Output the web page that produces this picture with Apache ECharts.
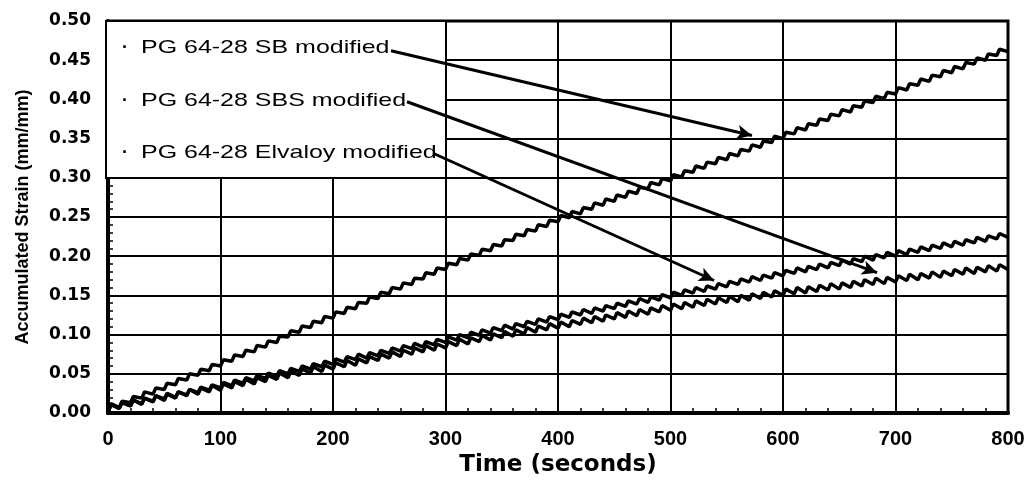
<!DOCTYPE html>
<html>
<head>
<meta charset="utf-8">
<script src="https://cdn.jsdelivr.net/npm/echarts@6/dist/echarts.min.js"></script>
<style>
  html, body { margin: 0; padding: 0; background: #fff; }
  #chart { width: 1035px; height: 482px; }
</style>
</head>
<body>
<div id="chart"></div>
<script>
// Repeated creep-recovery test: each cycle is a short load pulse followed by rest.
const CYCLE_SECONDS = 10;
const LOAD_SECONDS = 2.5;

const seriesNames = ['PG 64-28 SB modified', 'PG 64-28 SBS modified', 'PG 64-28 Elvaloy modified'];

// Strain at the start of each cycle (t = 0, 10, ..., 800 s), mm/mm
const sbValley = [
  0.000, 0.007, 0.013, 0.019, 0.024, 0.030, 0.036, 0.042, 0.048, 0.054,
  0.060, 0.066, 0.072, 0.078, 0.084, 0.090, 0.097, 0.103, 0.109, 0.115,
  0.121, 0.127, 0.133, 0.140, 0.146, 0.152, 0.158, 0.164, 0.171, 0.177,
  0.183, 0.189, 0.195, 0.201, 0.207, 0.213, 0.220, 0.226, 0.232, 0.238,
  0.244, 0.249, 0.254, 0.260, 0.265, 0.270, 0.275, 0.280, 0.286, 0.291,
  0.296, 0.301, 0.307, 0.312, 0.318, 0.323, 0.328, 0.334, 0.339, 0.345,
  0.350, 0.356, 0.361, 0.367, 0.373, 0.379, 0.384, 0.390, 0.396, 0.401,
  0.407, 0.412, 0.418, 0.423, 0.429, 0.434, 0.439, 0.445, 0.450, 0.456,
  0.461
];
// Strain at the end of each load pulse
const sbPeak = [
  0.012, 0.015, 0.021, 0.027, 0.032, 0.038, 0.044, 0.050, 0.056, 0.062,
  0.068, 0.074, 0.080, 0.086, 0.092, 0.098, 0.105, 0.111, 0.117, 0.123,
  0.129, 0.135, 0.141, 0.148, 0.154, 0.160, 0.166, 0.172, 0.179, 0.185,
  0.191, 0.197, 0.203, 0.209, 0.215, 0.221, 0.228, 0.234, 0.240, 0.246,
  0.252, 0.257, 0.262, 0.268, 0.273, 0.278, 0.283, 0.288, 0.294, 0.299,
  0.304, 0.309, 0.315, 0.320, 0.326, 0.331, 0.336, 0.342, 0.347, 0.353,
  0.358, 0.364, 0.369, 0.375, 0.381, 0.387, 0.392, 0.398, 0.404, 0.409,
  0.415, 0.420, 0.426, 0.431, 0.437, 0.442, 0.447, 0.453, 0.458, 0.464
];

const sbsValley = [
  0.000, 0.006, 0.009, 0.011, 0.014, 0.016, 0.019, 0.022, 0.024, 0.027,
  0.029, 0.032, 0.035, 0.037, 0.040, 0.043, 0.045, 0.048, 0.051, 0.053,
  0.056, 0.059, 0.061, 0.064, 0.067, 0.070, 0.072, 0.075, 0.078, 0.080,
  0.083, 0.086, 0.088, 0.091, 0.093, 0.096, 0.098, 0.101, 0.103, 0.106,
  0.108, 0.110, 0.113, 0.115, 0.117, 0.120, 0.122, 0.124, 0.126, 0.129,
  0.131, 0.133, 0.135, 0.137, 0.139, 0.141, 0.142, 0.144, 0.146, 0.148,
  0.150, 0.152, 0.153, 0.155, 0.157, 0.158, 0.160, 0.162, 0.164, 0.165,
  0.167, 0.169, 0.170, 0.172, 0.173, 0.175, 0.177, 0.178, 0.180, 0.181,
  0.183
];
const sbsPeak = [
  0.011, 0.014, 0.017, 0.019, 0.022, 0.024, 0.027, 0.030, 0.032, 0.035,
  0.037, 0.040, 0.043, 0.045, 0.048, 0.051, 0.053, 0.056, 0.059, 0.061,
  0.064, 0.067, 0.069, 0.072, 0.075, 0.078, 0.080, 0.083, 0.086, 0.088,
  0.091, 0.094, 0.096, 0.099, 0.101, 0.104, 0.106, 0.109, 0.111, 0.114,
  0.116, 0.118, 0.121, 0.123, 0.125, 0.128, 0.130, 0.132, 0.134, 0.137,
  0.139, 0.141, 0.143, 0.145, 0.147, 0.149, 0.150, 0.152, 0.154, 0.156,
  0.158, 0.160, 0.161, 0.163, 0.165, 0.166, 0.168, 0.170, 0.172, 0.173,
  0.175, 0.177, 0.178, 0.180, 0.181, 0.183, 0.185, 0.186, 0.188, 0.189
];

const elvValley = [
  0.000, 0.006, 0.009, 0.012, 0.015, 0.018, 0.020, 0.023, 0.026, 0.029,
  0.032, 0.035, 0.038, 0.041, 0.044, 0.047, 0.050, 0.053, 0.056, 0.059,
  0.062, 0.065, 0.068, 0.070, 0.073, 0.076, 0.079, 0.082, 0.084, 0.087,
  0.090, 0.093, 0.096, 0.099, 0.102, 0.105, 0.107, 0.110, 0.113, 0.116,
  0.119, 0.122, 0.125, 0.127, 0.130, 0.133, 0.136, 0.139, 0.141, 0.144,
  0.147, 0.150, 0.153, 0.155, 0.158, 0.161, 0.164, 0.167, 0.169, 0.172,
  0.175, 0.178, 0.180, 0.183, 0.185, 0.188, 0.190, 0.193, 0.195, 0.198,
  0.200, 0.202, 0.205, 0.207, 0.210, 0.212, 0.214, 0.217, 0.219, 0.222,
  0.224
];
const elvPeak = [
  0.011, 0.013, 0.016, 0.019, 0.022, 0.025, 0.027, 0.030, 0.033, 0.036,
  0.039, 0.042, 0.045, 0.048, 0.051, 0.054, 0.057, 0.060, 0.063, 0.066,
  0.069, 0.072, 0.075, 0.077, 0.080, 0.083, 0.086, 0.089, 0.091, 0.094,
  0.097, 0.100, 0.103, 0.106, 0.109, 0.112, 0.114, 0.117, 0.120, 0.123,
  0.126, 0.129, 0.132, 0.134, 0.137, 0.140, 0.143, 0.146, 0.148, 0.151,
  0.154, 0.157, 0.160, 0.162, 0.165, 0.168, 0.171, 0.174, 0.176, 0.179,
  0.182, 0.185, 0.187, 0.190, 0.192, 0.195, 0.197, 0.200, 0.202, 0.205,
  0.207, 0.209, 0.212, 0.214, 0.217, 0.219, 0.221, 0.224, 0.226, 0.229
];

// Axis tick labels
const xTicks = [0, 100, 200, 300, 400, 500, 600, 700, 800];
const yTicks = ['0.00', '0.05', '0.10', '0.15', '0.20', '0.25', '0.30', '0.35', '0.40', '0.45', '0.50'];

// Callout arrows: [label end, pointed point] in (seconds, mm/mm)
const arrowSB = [[251.6, 0.462], [572.4, 0.354]];
const arrowSBS = [[265.8, 0.397], [683.6, 0.179]];
const arrowElv = [[289.5, 0.331], [538.7, 0.169]];

function cyclePoints(valley, peak) {
  const pts = [];
  for (let k = 0; k < peak.length; k++) {
    pts.push([k * CYCLE_SECONDS, valley[k]]);
    pts.push([k * CYCLE_SECONDS + LOAD_SECONDS, peak[k]]);
  }
  pts.push([peak.length * CYCLE_SECONDS, valley[peak.length]]);
  return pts;
}

const chart = echarts.init(document.getElementById('chart'), null, { renderer: 'canvas' });

const lineStyle = { color: '#000', width: 3.5 };
const arrowLine = (a) => [{ coord: a[0] }, { coord: a[1] }];

// Legend box with its three labels, placed over the upper-left of the plot
const LEGEND_FONT = '18.5px "Liberation Sans"';
const legendRows = [48, 101, 153];
const legendGraphics = [
  { type: 'rect', z: 5, shape: { x: 106, y: 21, width: 340, height: 157 },
    style: { fill: '#fff', stroke: '#000', lineWidth: 2 } }
];
seriesNames.forEach((name, i) => {
  legendGraphics.push({ type: 'text', z: 6, x: 122, y: legendRows[i],
    style: { text: '·', font: 'bold 18px "Liberation Sans"', fill: '#000', verticalAlign: 'middle' } });
  legendGraphics.push({ type: 'text', z: 6, x: 141, y: legendRows[i], scaleX: 1.35,
    style: { text: name, font: LEGEND_FONT, fill: '#000', verticalAlign: 'middle' } });
});

const option = {
  backgroundColor: '#fff',
  animation: false,
  grid: {
    left: 108, right: 27, top: 21, bottom: 67,
    show: true, borderColor: '#000', borderWidth: 3, backgroundColor: 'transparent'
  },
  xAxis: {
    type: 'value', min: 0, max: 800, interval: 100,
    name: 'Time (seconds)', nameLocation: 'middle', nameGap: 41,
    nameTextStyle: { fontFamily: 'DejaVu Sans', fontWeight: 'bold', fontSize: 23, color: '#000' },
    axisLine: { show: true, onZero: false, lineStyle: { color: '#000', width: 4 } },
    axisTick: { show: true, inside: true, length: 5, lineStyle: { color: '#000', width: 1.5 } },
    minorTick: { show: true, splitNumber: 5, length: 5, lineStyle: { color: '#000', width: 1.5 } },
    splitLine: { show: true, lineStyle: { color: '#000', width: 2 } },
    axisLabel: {
      margin: 16, color: '#000', fontFamily: 'Liberation Sans', fontWeight: 'bold', fontSize: 20,
      formatter: (v) => String(xTicks[xTicks.indexOf(v)])
    }
  },
  yAxis: {
    type: 'value', min: 0, max: 0.5, interval: 0.05,
    name: 'Accumulated Strain (mm/mm)', nameLocation: 'middle', nameGap: 76,
    nameTextStyle: { fontFamily: 'Liberation Sans', fontWeight: 'bold', fontSize: 18, color: '#000' },
    axisLine: { show: true, onZero: false, lineStyle: { color: '#000', width: 4 } },
    axisTick: { show: true, inside: true, length: 5, lineStyle: { color: '#000', width: 1.5 } },
    minorTick: { show: true, splitNumber: 5, length: 5, lineStyle: { color: '#000', width: 1.5 } },
    splitLine: { show: true, lineStyle: { color: '#000', width: 2 } },
    axisLabel: {
      margin: 17, color: '#000', fontFamily: 'DejaVu Sans', fontWeight: 'bold', fontSize: 17,
      formatter: (v) => yTicks[Math.round(v / 0.05)]
    }
  },
  graphic: legendGraphics,
  series: [
    {
      name: seriesNames[0], type: 'line', showSymbol: false, z: 10,
      data: cyclePoints(sbValley, sbPeak), lineStyle,
      markLine: {
        silent: true, symbol: ['none', 'arrow'], symbolSize: [11, 15],
        label: { show: false },
        lineStyle: { color: '#000', width: 3, type: 'solid' },
        data: [arrowLine(arrowSB), arrowLine(arrowSBS), arrowLine(arrowElv)]
      }
    },
    { name: seriesNames[1], type: 'line', showSymbol: false, z: 10, data: cyclePoints(sbsValley, sbsPeak), lineStyle },
    { name: seriesNames[2], type: 'line', showSymbol: false, z: 10, data: cyclePoints(elvValley, elvPeak), lineStyle }
  ]
};

chart.setOption(option);
</script>
</body>
</html>
